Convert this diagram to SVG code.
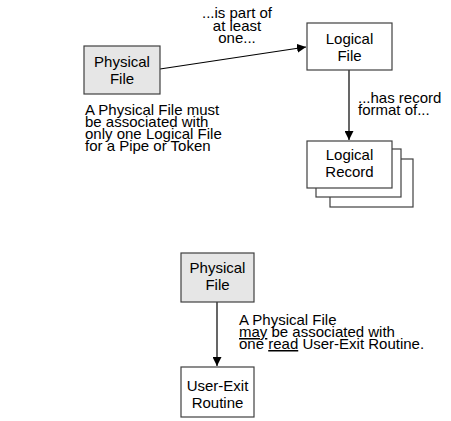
<svg xmlns="http://www.w3.org/2000/svg" width="451" height="421" viewBox="0 0 451 421">
<defs>
<style>
.box{fill:#ffffff;stroke:#404040;stroke-width:1.2}
.phys{fill:#e6e6e6;stroke:#404040;stroke-width:1.2}
.t{font-family:"Liberation Sans",Arial,sans-serif;font-size:15px;fill:#000}
.c{text-anchor:middle}
.line{stroke:#000;stroke-width:1.2;fill:none}
</style>
<marker id="ah" viewBox="0 0 10 10" refX="10" refY="5" markerWidth="9" markerHeight="9" markerUnits="userSpaceOnUse" orient="auto">
<path d="M0,0 L10,5 L0,10 z" fill="#000"/>
</marker>
</defs>
<rect width="451" height="421" fill="#fff"/>
<g id="connectors">
<line class="line" x1="160" y1="69" x2="306" y2="47" marker-end="url(#ah)"/>
<line class="line" x1="349" y1="70" x2="349" y2="140" marker-end="url(#ah)"/>
<line class="line" x1="217" y1="302" x2="217" y2="366" marker-end="url(#ah)"/>
</g>
<g id="physical-file-1">
<rect class="phys" x="84" y="46" width="76" height="48"/>
<text class="t c" x="122" y="67">Physical<tspan x="122" dy="17">File</tspan></text>
</g>
<g id="logical-file">
<rect class="box" x="307" y="23" width="85" height="47"/>
<text class="t c" x="349.5" y="44">Logical<tspan x="349.5" dy="17">File</tspan></text>
</g>
<g id="logical-record">
<rect class="box" x="330" y="159" width="83" height="48"/>
<rect class="box" x="316" y="149" width="85" height="48"/>
<rect class="box" x="307" y="141" width="85" height="47"/>
<text class="t c" x="349.5" y="160">Logical<tspan x="349.5" dy="17">Record</tspan></text>
</g>
<g id="physical-file-2">
<rect class="phys" x="181" y="253" width="73" height="49"/>
<text class="t c" x="217.5" y="273">Physical<tspan x="217.5" dy="17">File</tspan></text>
</g>
<g id="user-exit-routine">
<rect class="box" x="181" y="367" width="73" height="50"/>
<text class="t c" x="217.5" y="391">User-Exit<tspan x="217.5" dy="17">Routine</tspan></text>
</g>
<g id="labels">
<text class="t c" x="237" y="18">...is part of<tspan x="237" dy="12.5">at least</tspan><tspan x="237" dy="12.5">one...</tspan></text>
<text class="t" x="358" y="103">...has record<tspan x="358" dy="12">format of...</tspan></text>
<text class="t" x="85" y="115">A Physical File must<tspan x="85" dy="12">be associated with</tspan><tspan x="85" dy="12">only one Logical File</tspan><tspan x="85" dy="12">for a Pipe or Token</tspan></text>
<text class="t" x="239" y="325">A Physical File<tspan x="239" dy="12"><tspan text-decoration="underline">may</tspan> be associated with</tspan><tspan x="239" dy="12">one <tspan text-decoration="underline">read</tspan> User-Exit Routine.</tspan></text>
</g>
</svg>
